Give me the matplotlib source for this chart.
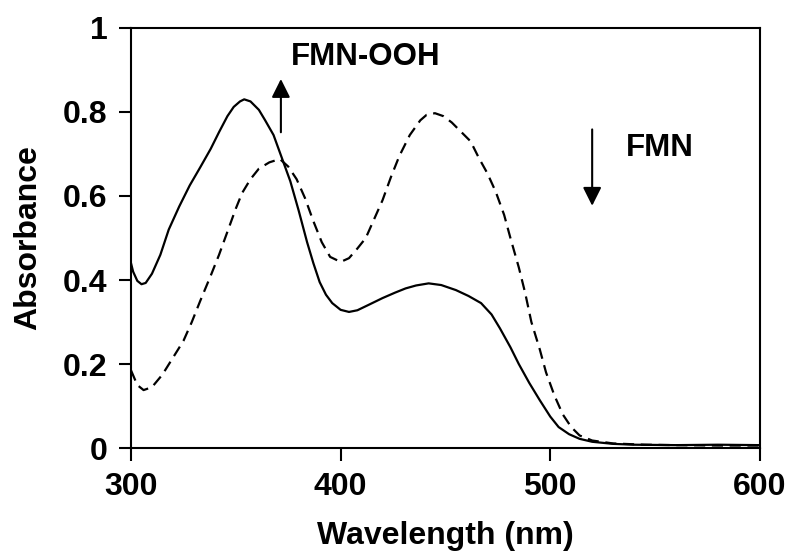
import matplotlib
matplotlib.use('Agg')
import matplotlib.pyplot as plt

plt.rcParams['font.family'] = ['Liberation Sans', 'DejaVu Sans']
plt.rcParams['font.weight'] = 'bold'

# FMN-OOH (durchgezogen)
wl_ooh = [300, 301, 303, 305, 307, 310, 314, 318, 323, 328, 333, 338, 342, 346, 349, 352, 354, 357,
          361, 364, 368, 372, 376, 380, 384, 387, 390, 393, 396, 400, 404, 408, 413, 420, 426,
          431, 436, 442, 448, 455, 461, 467, 472, 476, 481, 485, 490, 495, 500, 504, 509,
          514, 520, 530, 540, 560, 580, 600]
abs_ooh = [0.44, 0.42, 0.398, 0.39, 0.393, 0.415, 0.46, 0.52, 0.575, 0.625, 0.668, 0.712, 0.752, 0.79, 0.812, 0.825, 0.83, 0.825,
           0.805, 0.78, 0.745, 0.69, 0.635, 0.565, 0.49, 0.44, 0.395, 0.365, 0.345, 0.329, 0.324, 0.328, 0.34, 0.357, 0.37,
           0.38, 0.387, 0.392, 0.388, 0.376, 0.362, 0.345, 0.318, 0.285, 0.24, 0.20, 0.155, 0.114, 0.075, 0.05, 0.033,
           0.022, 0.015, 0.01, 0.008, 0.007, 0.008, 0.007]

# FMN (gestrichelt)
wl_fmn = [300, 303, 306, 310, 315, 320, 325, 329, 333, 338, 342, 346, 350, 353, 357, 361,
          366, 371, 375, 379, 383, 387, 391, 395, 400, 404, 408, 412, 416, 420, 424, 428,
          433, 438, 441, 445, 449, 453, 457, 462, 466, 470, 474, 478, 481, 485, 488, 491,
          495, 498, 502, 506, 510, 514, 520, 530, 545, 560, 580, 600]
abs_fmn = [0.185, 0.15, 0.138, 0.145, 0.175, 0.215, 0.255, 0.30, 0.35, 0.41, 0.46, 0.515, 0.57, 0.607, 0.64, 0.665,
           0.68, 0.688, 0.67, 0.64, 0.595, 0.54, 0.49, 0.455, 0.443, 0.452, 0.475, 0.50, 0.545, 0.59, 0.645, 0.695,
           0.745, 0.78, 0.793, 0.797, 0.79, 0.775, 0.755, 0.73, 0.69, 0.654, 0.61, 0.555, 0.50, 0.43, 0.37, 0.30,
           0.235, 0.18, 0.125, 0.08, 0.05, 0.03, 0.018, 0.011, 0.008, 0.007, 0.006, 0.006]

fig = plt.figure(figsize=(7.94, 5.58), dpi=100)
ax = fig.add_axes([0.165, 0.197, 0.792, 0.753])

ax.plot(wl_ooh, abs_ooh, 'k-', lw=1.6)
ax.plot(wl_fmn, abs_fmn, 'k', lw=1.6, dashes=(5, 3))

# Pfeile und Beschriftung
ax.annotate('', xy=(371.5, 0.885), xytext=(371.5, 0.745),
            arrowprops=dict(arrowstyle='-|>', color='k', lw=1.5, mutation_scale=28))
ax.annotate('', xy=(520, 0.57), xytext=(520, 0.765),
            arrowprops=dict(arrowstyle='-|>', color='k', lw=1.5, mutation_scale=28))
ax.text(376.5, 0.93, 'FMN-OOH', fontsize=22.5, fontweight='bold', va='center', ha='left')
ax.text(536, 0.713, 'FMN', fontsize=22.5, fontweight='bold', va='center', ha='left')

ax.set_xlim(300, 600)
ax.set_ylim(0, 1)
ax.set_xticks([300, 400, 500, 600])
ax.set_yticks([0, 0.2, 0.4, 0.6, 0.8, 1])
ax.set_yticklabels(['0', '0.2', '0.4', '0.6', '0.8', '1'])
ax.tick_params(direction='out', length=9, width=1.5, labelsize=23, pad=8)
for s in ax.spines.values():
    s.set_linewidth(1.5)

ax.set_xlabel('Wavelength (nm)', fontsize=23, fontweight='bold', labelpad=14)
ax.set_ylabel('Absorbance', fontsize=23, fontweight='bold', labelpad=14)

fig.savefig('out.png', dpi=100)
